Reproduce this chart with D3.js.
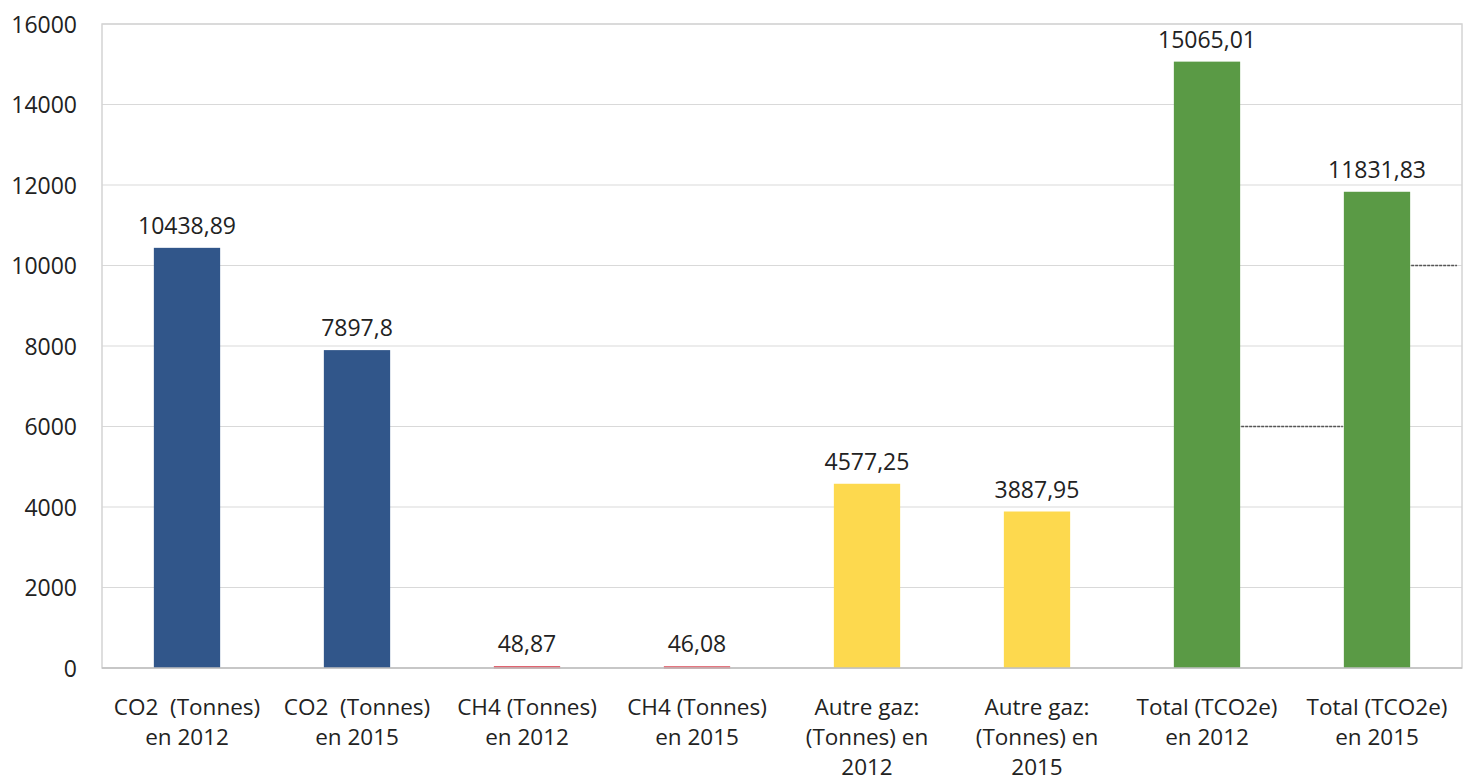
<!DOCTYPE html>
<html><head><meta charset="utf-8">
<script src="https://cdn.jsdelivr.net/npm/d3@7"></script>
<style>body{margin:0;background:#fff}</style>
</head><body>
<svg id="c" width="1472" height="782"></svg>
<script>
const categories = [
  ["CO2  (Tonnes)","en 2012"],
  ["CO2  (Tonnes)","en 2015"],
  ["CH4 (Tonnes)","en 2012"],
  ["CH4 (Tonnes)","en 2015"],
  ["Autre gaz:","(Tonnes) en","2012"],
  ["Autre gaz:","(Tonnes) en","2015"],
  ["Total (TCO2e)","en 2012"],
  ["Total (TCO2e)","en 2015"]
];
const values = [10438.89, 7897.8, 48.87, 46.08, 4577.25, 3887.95, 15065.01, 11831.83];
const valueLabels = ["10438,89","7897,8","48,87","46,08","4577,25","3887,95","15065,01","11831,83"];
const barColors = ["#31568a","#31568a","#e0606c","#e0606c","#fdd94e","#fdd94e","#5a9a45","#5a9a45"];
const yTicks = [0,2000,4000,6000,8000,10000,12000,14000,16000];
// stray line segments visible in the picture: [from bar index, to bar index (8 = plot edge), value]
const strayLines = [[6,7,6000],[7,8,10000]];

const svg = d3.select("#c");
const L=102, R=1462, T=24, B=668;
const font = "'Open Sans', sans-serif";
const FS = 23;
const x = d3.scaleBand().domain(d3.range(categories.length)).range([L,R]).paddingInner(0.61).paddingOuter(0.305);
const y = d3.scaleLinear().domain([0,16000]).range([B,T]);
const bw = x.bandwidth();

// gridlines
svg.append("g").selectAll("line").data(yTicks.filter(d=>d>0)).join("line")
  .attr("x1",L).attr("x2",R).attr("y1",d=>y(d)).attr("y2",d=>y(d))
  .attr("stroke","#d9d9d9").attr("stroke-width",1.2);
// border
svg.append("rect").attr("x",L).attr("y",T).attr("width",R-L).attr("height",B-T)
  .attr("fill","none").attr("stroke","#d4d4d4").attr("stroke-width",1.5);

// y axis labels
const ya = svg.append("g").attr("transform",`translate(${L-25},0)`)
  .call(d3.axisLeft(y).tickValues(yTicks).tickFormat(d3.format("d")).tickSize(0).tickPadding(0));
ya.select(".domain").remove();
ya.selectAll("text").attr("font-family",font).attr("font-size",FS).attr("fill","#222").attr("dy","0.35em");

// bars
svg.append("g").selectAll("rect").data(values).join("rect")
  .attr("x",(d,i)=>x(i)).attr("width",bw)
  .attr("y",d=>y(d)).attr("height",d=>Math.max(2.5,B-y(d)))
  .attr("fill",(d,i)=>barColors[i]);

// bottom axis line
svg.append("line").attr("x1",L).attr("x2",R).attr("y1",B).attr("y2",B).attr("stroke","#bfbfbf").attr("stroke-width",1.5);

// stray lines
svg.append("g").selectAll("line").data(strayLines).join("line")
  .attr("x1",d=>x(d[0])+bw+1).attr("x2",d=>d[1]<categories.length ? x(d[1])-1 : R-5)
  .attr("y1",d=>y(d[2])).attr("y2",d=>y(d[2]))
  .attr("stroke","#555").attr("stroke-width",1.6).attr("stroke-dasharray","3,1");

// value labels
svg.append("g").selectAll("text").data(values).join("text")
  .attr("x",(d,i)=>x(i)+bw/2).attr("y",d=>y(d)-14)
  .attr("text-anchor","middle").attr("font-family",font).attr("font-size",FS).attr("fill","#222")
  .text((d,i)=>valueLabels[i]);

// category labels
const cg = svg.append("g").selectAll("text").data(categories).join("text")
  .attr("x",(d,i)=>x(i)+bw/2).attr("y",715)
  .attr("text-anchor","middle").attr("font-family",font).attr("font-size",FS-0.5).attr("fill","#222");
cg.selectAll("tspan").data(d=>d).join("tspan")
  .attr("x",function(){return this.parentNode.getAttribute("x");})
  .attr("dy",(d,i)=>i===0?0:30).style("white-space","pre").text(d=>d);
</script>
</body></html>
